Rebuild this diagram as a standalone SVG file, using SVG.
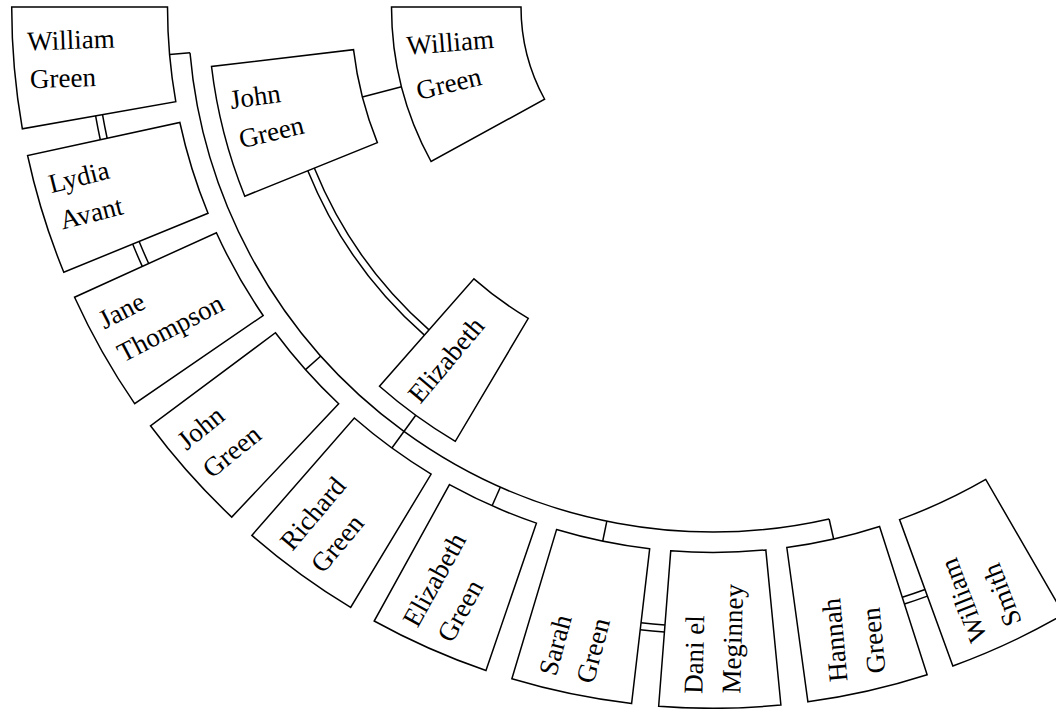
<svg xmlns="http://www.w3.org/2000/svg" width="1056" height="709" viewBox="0 0 1056 709">
<style>
.node path{fill:#fff;stroke:#000;stroke-width:1.5}
.conn path{fill:none;stroke:#000;stroke-width:1.5}
text{font-family:"Liberation Serif","Times New Roman",serif;font-size:27px;fill:#000}
</style>
<rect width="1056" height="709" fill="#fff"/>
<g id="connectors" class="conn">
<path d="M190.00 52.76 A525 525 0 0 0 829.11 519.00"/>
<path d="M169.58 54.55 L190.00 52.76"/>
<path d="M320.81 356.02 L305.49 369.65"/>
<path d="M415.74 415.24 L391.90 447.98"/>
<path d="M500.40 487.03 L492.09 505.77"/>
<path d="M606.83 521.15 L602.69 541.23"/>
<path d="M829.11 519.00 L833.64 538.99"/>
<path d="M401.57 86.84 L362.34 96.90"/>
<path d="M314.31 168.08 A430 430 0 0 0 429.03 329.90"/>
<path d="M307.82 170.70 A437 437 0 0 0 424.41 335.15"/>
<path d="M102.52 114.65 A619.9 619.9 0 0 0 107.15 138.23"/>
<path d="M95.62 115.86 A626.9 626.9 0 0 0 100.30 139.72"/>
<path d="M139.15 241.45 A619.9 619.9 0 0 0 148.67 263.52"/>
<path d="M132.67 244.09 A626.9 626.9 0 0 0 142.29 266.42"/>
<path d="M641.04 622.71 A619.9 619.9 0 0 0 664.96 625.03"/>
<path d="M640.22 629.66 A626.9 626.9 0 0 0 664.42 632.01"/>
<path d="M902.27 597.30 A619.9 619.9 0 0 0 925.02 589.51"/>
<path d="M904.41 603.97 A626.9 626.9 0 0 0 927.41 596.09"/>
</g>
<g id="william-green-sr" class="node">
<path d="M391.5 7 A321.5 321.5 0 0 0 431.05 161.49 L544.62 99.26 A192 192 0 0 1 521 7 Z"/>
<text transform="translate(407.3 54.8) rotate(-4.5)">William</text>
<text transform="translate(418.8 99.9) rotate(-13.5)">Green</text>
</g>
<g id="john-green" class="node">
<path d="M211.52 66.53 A505 505 0 0 0 244.77 196.18 L377.36 142.61 A362 362 0 0 1 353.52 49.68 Z"/>
<text transform="translate(231.2 108.9) rotate(-8)">John</text>
<text transform="translate(241.4 148.6) rotate(-13.7)">Green</text>
</g>
<g id="elizabeth" class="node">
<path d="M379.50 386.21 A505 505 0 0 0 455.33 441.32 L528.29 318.33 A362 362 0 0 1 473.94 278.83 Z"/>
<text transform="translate(420.2 404.8) rotate(-50)">Elizabeth</text>
</g>
<g id="william-green" class="node">
<path d="M11.7 7 A701.3 701.3 0 0 0 22.35 128.78 L175.79 101.73 A545.5 545.5 0 0 1 167.5 7 Z"/>
<text transform="translate(27.6 50.5) rotate(-2)">William</text>
<text transform="translate(30.3 88.3) rotate(-2)">Green</text>
</g>
<g id="lydia-avant" class="node">
<path d="M27.59 155.47 A701.3 701.3 0 0 0 63.79 272.23 L208.02 213.31 A545.5 545.5 0 0 1 179.86 122.48 Z"/>
<text transform="translate(51.3 193.2) rotate(-14.2)">Lydia</text>
<text transform="translate(62.6 229.5) rotate(-14.2)">Avant</text>
</g>
<g id="jane-thompson" class="node">
<path d="M74.57 297.21 A701.3 701.3 0 0 0 134.65 403.66 L263.14 315.53 A545.5 545.5 0 0 1 216.40 232.73 Z"/>
<text transform="translate(104.6 329.6) rotate(-27.5)">Jane</text>
<text transform="translate(123.3 362.7) rotate(-27.5)">Thompson</text>
</g>
<g id="john-green-jr" class="node">
<path d="M150.47 425.79 A701.3 701.3 0 0 0 231.74 517.10 L338.66 403.78 A545.5 545.5 0 0 1 275.44 332.75 Z"/>
<text transform="translate(186.5 450.9) rotate(-39)">John</text>
<text transform="translate(211.7 479.3) rotate(-39)">Green</text>
</g>
<g id="richard-green" class="node">
<path d="M251.87 535.39 A701.3 701.3 0 0 0 350.64 607.43 L431.14 474.04 A545.5 545.5 0 0 1 354.32 418.00 Z"/>
<text transform="translate(292.2 552.1) rotate(-50)">Richard</text>
<text transform="translate(322.9 574.5) rotate(-50)">Green</text>
</g>
<g id="elizabeth-green" class="node">
<path d="M374.19 621.03 A701.3 701.3 0 0 0 485.97 670.53 L536.41 523.12 A545.5 545.5 0 0 1 449.46 484.62 Z"/>
<text transform="translate(417.4 628.7) rotate(-61)">Elizabeth</text>
<text transform="translate(452.1 644.0) rotate(-61)">Green</text>
</g>
<g id="sarah-green" class="node">
<path d="M511.86 678.84 A701.3 701.3 0 0 0 631.59 703.56 L649.67 548.81 A545.5 545.5 0 0 1 556.55 529.58 Z"/>
<text transform="translate(556.0 677.1) rotate(-75)">Sarah</text>
<text transform="translate(593.2 684.7) rotate(-75)">Green</text>
</g>
<g id="daniel-meginney" class="node">
<path d="M658.66 706.19 A701.3 701.3 0 0 0 780.90 705.00 L765.82 549.94 A545.5 545.5 0 0 1 670.73 550.86 Z"/>
<text transform="translate(702.2 694.1) rotate(-88.5)">Dani el</text>
<text transform="translate(740.2 693.8) rotate(-88.5)">Meginney</text>
</g>
<g id="hannah-green" class="node">
<path d="M807.91 701.85 A701.3 701.3 0 0 0 927.13 674.81 L879.56 526.45 A545.5 545.5 0 0 1 786.82 547.48 Z"/>
<text transform="translate(847.4 681.1) rotate(-95)">Hannah</text>
<text transform="translate(885.4 672.6) rotate(-95)">Green</text>
</g>
<g id="william-smith" class="node">
<path d="M952.86 666.00 A701.3 701.3 0 0 0 1063.65 614.35 L985.75 479.42 A545.5 545.5 0 0 1 899.57 519.60 Z"/>
<text transform="translate(987.6 638.0) rotate(-111)">William</text>
<text transform="translate(1022.0 621.9) rotate(-111)">Smith</text>
</g>
</svg>
